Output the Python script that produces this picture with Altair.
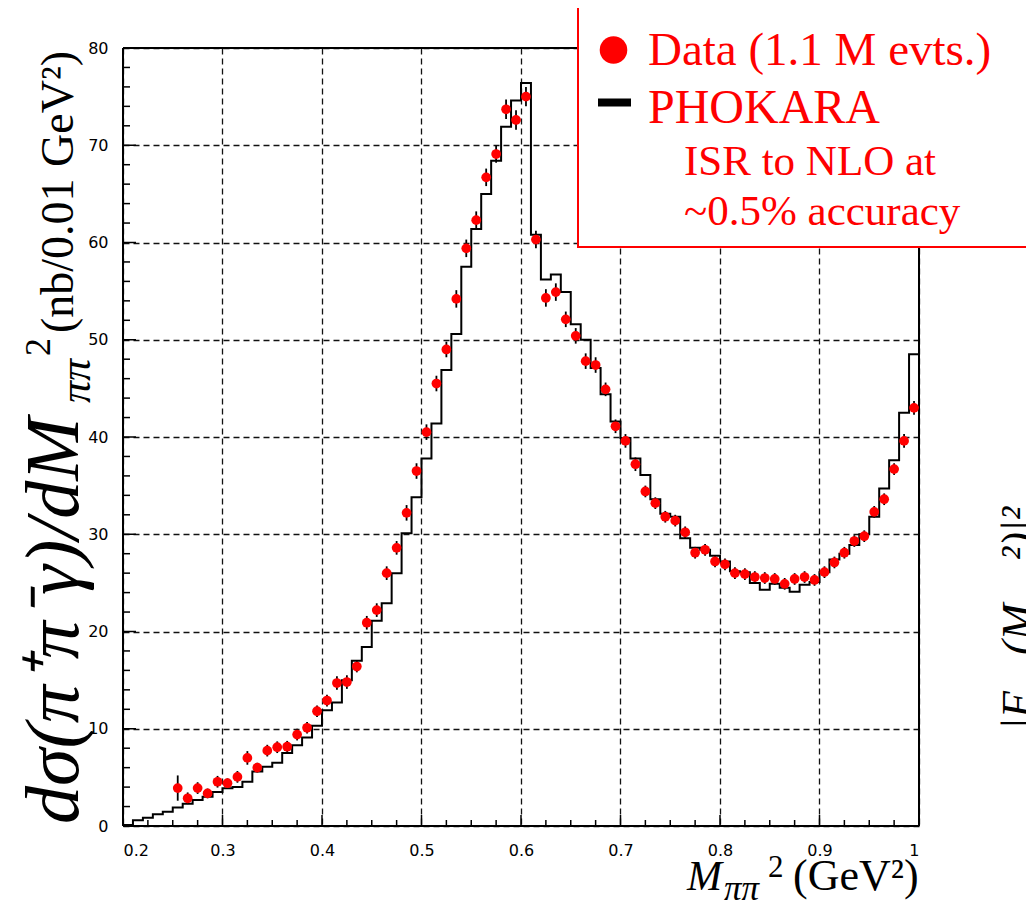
import altair as alt
import pandas as pd

# ---------------- data ----------------
data_x = [0.255, 0.265, 0.275, 0.285, 0.295, 0.305, 0.315, 0.325, 0.335, 0.345,
          0.355, 0.365, 0.375, 0.385, 0.395, 0.405, 0.415, 0.425, 0.435, 0.445,
          0.455, 0.465, 0.475, 0.485, 0.495, 0.505, 0.515, 0.525, 0.535, 0.545,
          0.555, 0.565, 0.575, 0.585, 0.595, 0.605, 0.615, 0.625, 0.635, 0.645,
          0.655, 0.665, 0.675, 0.685, 0.695, 0.705, 0.715, 0.725, 0.735, 0.745,
          0.755, 0.765, 0.775, 0.785, 0.795, 0.805, 0.815, 0.825, 0.835, 0.845,
          0.855, 0.865, 0.875, 0.885, 0.895, 0.905, 0.915, 0.925, 0.935, 0.945,
          0.955, 0.965, 0.975, 0.985, 0.995]
data_y = [3.9, 2.85, 3.9, 3.35, 4.55, 4.4, 5.05, 7.0, 6.0, 7.75,
          8.1, 8.15, 9.4, 10.1, 11.8, 12.9, 14.7, 14.8, 16.4, 20.9,
          22.2, 26.0, 28.6, 32.2, 36.5, 40.5, 45.5, 49.0, 54.2, 59.4,
          62.3, 66.7, 69.1, 73.7, 72.6, 75.0, 60.3, 54.3, 54.9, 52.1,
          50.4, 47.8, 47.4, 44.9, 41.1, 39.6, 37.2, 34.4, 33.2, 31.8,
          31.4, 30.2, 28.1, 28.4, 27.2, 26.9, 26.0, 25.9, 25.6, 25.5,
          25.4, 24.9, 25.4, 25.6, 25.3, 26.1, 27.1, 28.1, 29.3, 29.8,
          32.3, 33.6, 36.7, 39.6, 43.0]
data_err = [1.3, 0.6, 0.6, 0.5, 0.6, 0.5, 0.6, 0.7, 0.5, 0.6,
            0.6, 0.6, 0.6, 0.6, 0.6, 0.6, 0.7, 0.7, 0.6, 0.7,
            0.7, 0.7, 0.7, 0.8, 0.8, 0.8, 0.8, 0.8, 0.9, 0.9,
            0.9, 0.9, 0.9, 1.0, 1.0, 1.0, 0.9, 0.9, 0.9, 0.8,
            0.8, 0.8, 0.8, 0.7, 0.7, 0.7, 0.7, 0.6, 0.6, 0.6,
            0.6, 0.6, 0.6, 0.6, 0.6, 0.6, 0.6, 0.6, 0.6, 0.6,
            0.6, 0.6, 0.6, 0.6, 0.6, 0.6, 0.6, 0.6, 0.6, 0.6,
            0.6, 0.6, 0.6, 0.7, 0.7]

hist_edges = [0.20, 0.21, 0.22, 0.23, 0.24, 0.25, 0.26, 0.27, 0.28, 0.29,
              0.30, 0.31, 0.32, 0.33, 0.34, 0.35, 0.36, 0.37, 0.38, 0.39,
              0.40, 0.41, 0.42, 0.43, 0.44, 0.45, 0.46, 0.47, 0.48, 0.49,
              0.50, 0.51, 0.52, 0.53, 0.54, 0.55, 0.56, 0.57, 0.58, 0.59,
              0.60, 0.61, 0.62, 0.63, 0.64, 0.65, 0.66, 0.67, 0.68, 0.69,
              0.70, 0.71, 0.72, 0.73, 0.74, 0.75, 0.76, 0.77, 0.78, 0.79,
              0.80, 0.81, 0.82, 0.83, 0.84, 0.85, 0.86, 0.87, 0.88, 0.89,
              0.90, 0.91, 0.92, 0.93, 0.94, 0.95, 0.96, 0.97, 0.98, 0.99, 1.00]
hist_vals = [0.1, 0.6, 0.85, 1.2, 1.47, 1.9, 2.3, 2.67, 3.0, 3.5,
             3.87, 4.0, 4.56, 5.6, 6.1, 6.5, 7.5, 8.3, 9.1, 10.3,
             11.9, 12.7, 15.0, 17.0, 18.4, 21.1, 22.9, 26.0, 30.1, 33.8,
             37.8, 41.4, 46.9, 50.6, 57.5, 61.4, 65.0, 68.4, 71.9, 74.6,
             76.4, 60.8, 56.2, 56.7, 54.9, 51.6, 50.0, 47.1, 44.4, 41.6,
             39.9, 37.8, 36.1, 33.6, 32.1, 31.8, 29.6, 28.6, 28.4, 27.8,
             27.2, 26.2, 26.1, 25.0, 24.3, 24.9, 24.5, 24.1, 24.8, 25.1,
             26.1, 27.4, 28.0, 28.9, 30.0, 31.8, 34.7, 37.6, 42.5, 48.5]

x_major = [0.2, 0.3, 0.4, 0.5, 0.6, 0.7, 0.8, 0.9, 1.0]
x_minor = [0.225, 0.25, 0.275, 0.325, 0.35, 0.375, 0.425, 0.45, 0.475,
           0.525, 0.55, 0.575, 0.625, 0.65, 0.675, 0.725, 0.75, 0.775,
           0.825, 0.85, 0.875, 0.925, 0.95, 0.975]
y_major = [0, 10, 20, 30, 40, 50, 60, 70, 80]
y_minor = [2, 4, 6, 8, 12, 14, 16, 18, 22, 24, 26, 28, 32, 34, 36, 38,
           42, 44, 46, 48, 52, 54, 56, 58, 62, 64, 66, 68, 72, 74, 76, 78]

legend_data = "Data (1.1 M evts.)"
legend_mc = "PHOKARA"
legend_note1 = "ISR to NLO at"
legend_note2 = "~0.5% accuracy"

# ---------------- layout ----------------
W, H = 796, 778
SERIF = "Liberation Serif"

xs = alt.Scale(domain=[0.2, 1.0], nice=False, zero=False)
ys = alt.Scale(domain=[0, 80], nice=False, zero=True)

X_AX = alt.Axis(values=x_major, grid=True, gridDash=[6, 4], gridColor="#111",
                gridWidth=1.3, ticks=False, domain=False, title=None,
                labelFont="DejaVu Sans", labelFontSize=16, labelColor="black",
                labelPadding=16,
                labelExpr="datum.value == 1 ? '1' : format(datum.value, '.1f')")
Y_AX = alt.Axis(values=y_major, grid=True, gridDash=[6, 4], gridColor="#111",
                gridWidth=1.3, ticks=False, domain=False, title=None,
                labelFont="DejaVu Sans", labelFontSize=16, labelColor="black",
                labelPadding=15)


def X(f):
    return alt.X(f, scale=xs, axis=X_AX, title=None)


def Y(f):
    return alt.Y(f, scale=ys, axis=Y_AX, title=None)


df_pts = pd.DataFrame({"x": data_x, "y": data_y, "err": data_err})
df_pts["lo"] = df_pts["y"] - df_pts["err"]
df_pts["hi"] = df_pts["y"] + df_pts["err"]
df_hist = pd.DataFrame({"x": hist_edges, "y": hist_vals + [hist_vals[-1]]})
one = pd.DataFrame({"a": [0]})

hist = alt.Chart(df_hist).mark_line(
    interpolate="step-after", color="black", strokeWidth=2
).encode(x=X("x:Q"), y=Y("y:Q"))

xt_major = alt.Chart(pd.DataFrame({"x": x_major})).mark_rule(color="black", strokeWidth=1.5).encode(
    x=X("x:Q"), y=alt.value(H), y2=alt.value(H - 11))
xt_minor = alt.Chart(pd.DataFrame({"x": x_minor})).mark_rule(color="black", strokeWidth=1.5).encode(
    x=X("x:Q"), y=alt.value(H), y2=alt.value(H - 6))
yt_major = alt.Chart(pd.DataFrame({"y": y_major})).mark_rule(color="black", strokeWidth=1.5).encode(
    y=Y("y:Q"), x=alt.value(0), x2=alt.value(13))
yt_minor = alt.Chart(pd.DataFrame({"y": y_minor})).mark_rule(color="black", strokeWidth=1.5).encode(
    y=Y("y:Q"), x=alt.value(0), x2=alt.value(7))


def frame_line(x1, x2, y1, y2):
    return alt.Chart(one).mark_rule(color="black", strokeWidth=2).encode(
        x=alt.value(x1), x2=alt.value(x2), y=alt.value(y1), y2=alt.value(y2))


frame = [frame_line(0, W, H, H), frame_line(0, 0, 0, H),
         frame_line(0, W, 0, 0), frame_line(W, W, 0, H)]

errbars = alt.Chart(df_pts).mark_rule(color="black", strokeWidth=1.8).encode(
    x=X("x:Q"), y=Y("lo:Q"), y2="hi:Q")
points = alt.Chart(df_pts).mark_point(filled=True, shape="circle", size=95, color="#ff0000",
                                      opacity=1, strokeWidth=0).encode(
    x=X("x:Q"), y=Y("y:Q"))

# legend box (its right side runs off the page, as in the original)
leg_box = alt.Chart(one).mark_rect(fill="white", stroke="#ff0000", strokeWidth=2).encode(
    x=alt.value(455), x2=alt.value(912), y=alt.value(-41), y2=alt.value(199))
leg_dot = alt.Chart(one).mark_point(filled=True, shape="circle", size=760, color="#ff0000",
                                    opacity=1, strokeWidth=0).encode(
    x=alt.value(490.5), y=alt.value(2))
leg_dash = alt.Chart(one).mark_rule(color="black", strokeWidth=8).encode(
    x=alt.value(475), x2=alt.value(508), y=alt.value(54.5))


def txt(s, x, y, size, angle=0, italic=False, color="black", font=SERIF, align="left"):
    kw = dict(text=s, align=align, baseline="alphabetic", fontSize=size, font=font,
              color=color)
    if angle:
        kw["angle"] = angle
    if italic:
        kw["fontStyle"] = "italic"
    return alt.Chart(one).mark_text(**kw).encode(x=alt.value(x), y=alt.value(y))


texts = [
    txt(legend_data, 525, 17, 47, color="#ff0000"),
    txt(legend_mc, 525, 75, 48, color="#ff0000"),
    txt(legend_note1, 561, 127, 43, color="#ff0000"),
    txt(legend_note2, 561, 177, 43, color="#ff0000"),
    # y title
    txt("dσ(π⁺π⁻γ)/dM", -45, 776, 76, angle=270, italic=True),
    txt("ππ", -33, 355, 44, angle=270, italic=True),
    txt("2", -73, 308, 36, angle=270),
    txt(" (nb/0.01 GeV²)", -50, 285, 46, angle=270),
    # x title
    txt("M", 564, 842, 42, italic=True),
    txt("ππ", 601, 852, 35, italic=True),
    txt("2", 645, 829, 31),
    txt("(GeV²)", 670, 842, 44),
    # neighbouring panel's title, cut at the page edge
    txt("|F", 909, 682, 44, angle=270, italic=True),
    txt("(M", 909, 607, 44, angle=270, italic=True),
    txt("²)|²", 909, 512, 44, angle=270, italic=True),
]

chart = alt.layer(
    hist, xt_major, xt_minor, yt_major, yt_minor, *frame, errbars, points,
    leg_box, leg_dot, leg_dash, *texts
).properties(
    width=W, height=H,
    autosize=alt.AutoSizeParams(type="none"),
    padding={"left": 115, "top": 40, "right": 107, "bottom": 75},
).configure_view(stroke=None).configure(background="white")

chart.save("out.html", embed_options={"renderer": "svg", "actions": False})
